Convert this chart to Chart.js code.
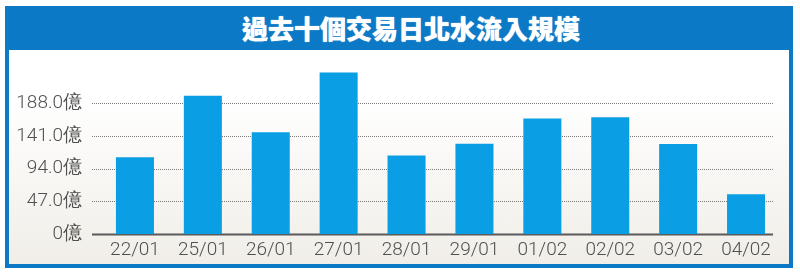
<!DOCTYPE html>
<html>
<head>
<meta charset="utf-8">
<script src="https://cdn.jsdelivr.net/npm/chart.js@4"></script>
<style>
  html, body { margin: 0; padding: 0; background: #fff; }
  .wrap { position: relative; width: 800px; height: 276px; overflow: hidden; }
  .frame {
    position: absolute; left: 5px; top: 6px; width: 780px; height: 258px;
    border: 4px solid #0b79c6; border-top: 0;
    background: linear-gradient(to bottom, #ffffff 0%, #ffffff 35%, #f1eee8 100%);
  }
  .header {
    position: absolute; left: 0; top: 0; width: 780px; height: 44px;
    background: #0b79c6; color: #fff;
    font-family: "Noto Sans CJK TC", sans-serif; font-weight: 900; font-size: 26px;
    line-height: 44px; text-align: center; padding-left: 24px; box-sizing: border-box;
    text-shadow: 0 0 1px #fff;
  }
  canvas { position: absolute; left: 0; top: 0; }
</style>
</head>
<body>
<div class="wrap">
  <div class="frame"><div class="header">過去十個交易日北水流入規模</div></div>
  <canvas id="flowChart" width="800" height="276"></canvas>
</div>
<script>
const labels = ['22/01', '25/01', '26/01', '27/01', '28/01', '29/01', '01/02', '02/02', '03/02', '04/02'];
const inflow = [110.2, 198.6, 146.3, 232.1, 112.7, 129.6, 165.9, 167.8, 129.4, 57.1];
const yTicks = [0, 47, 94, 141, 188];

// dotted grid + baseline, running a bit left of the plot area like the original
const gridPlugin = {
    id: 'dottedGrid',
    beforeDatasetsDraw(chart) {
        const { ctx, chartArea, scales } = chart;
        const x0 = chartArea.left - 9;
        const x1 = chartArea.right - 7;
        ctx.save();
        yTicks.forEach((v) => {
            const y = Math.round(scales.y.getPixelForValue(v)) + 0.5;
            ctx.beginPath();
            if (v === 0) {
                ctx.setLineDash([]);
                ctx.strokeStyle = '#5a5a5a';
                ctx.lineWidth = 2;
            } else {
                ctx.setLineDash([1, 1]);
                ctx.strokeStyle = '#7a7a7a';
                ctx.lineWidth = 1;
            }
            ctx.moveTo(x0, y);
            ctx.lineTo(x1, y);
            ctx.stroke();
        });
        ctx.restore();
    },
};

function barFill(context) {
    const chart = context.chart;
    if (!chart.chartArea) return '#0a9fe4';
    const el = chart.getDatasetMeta(0).data[context.dataIndex];
    if (!el || !el.width) return '#0a9fe4';
    const g = chart.ctx.createLinearGradient(el.x - el.width / 2, 0, el.x + el.width / 2, 0);
    g.addColorStop(0, '#058dd5');
    g.addColorStop(0.35, '#14a7ec');
    g.addColorStop(1, '#029be3');
    return g;
}

const tickFont = { family: 'Roboto', size: 19, weight: 300 };

new Chart(document.getElementById('flowChart'), {
    type: 'bar',
    data: {
        labels,
        datasets: [{
            data: inflow,
            backgroundColor: barFill,
            borderWidth: 0,
            categoryPercentage: 1,
            barPercentage: 0.56,
        }],
    },
    options: {
        responsive: false,
        animation: false,
        layout: { padding: { top: 67, right: 20, bottom: 14, left: 0 } },
        plugins: { legend: { display: false }, tooltip: { enabled: false } },
        scales: {
            x: {
                grid: { display: false, drawTicks: false },
                border: { display: false },
                ticks: { color: '#505050', font: tickFont, padding: 5 },
                afterFit: (scale) => { scale.height = 28; },
            },
            y: {
                min: 0,
                max: 240,
                grid: { display: false, drawTicks: false },
                border: { display: false },
                afterBuildTicks: (scale) => { scale.ticks = yTicks.map((v) => ({ value: v })); },
                afterFit: (scale) => { scale.width = 101; },
                ticks: {
                    color: '#505050',
                    font: tickFont,
                    padding: 19,
                    callback: (v) => (v === 0 ? '0億' : v.toFixed(1) + '億'),
                },
            },
        },
    },
    plugins: [gridPlugin],
});
</script>
</body>
</html>
